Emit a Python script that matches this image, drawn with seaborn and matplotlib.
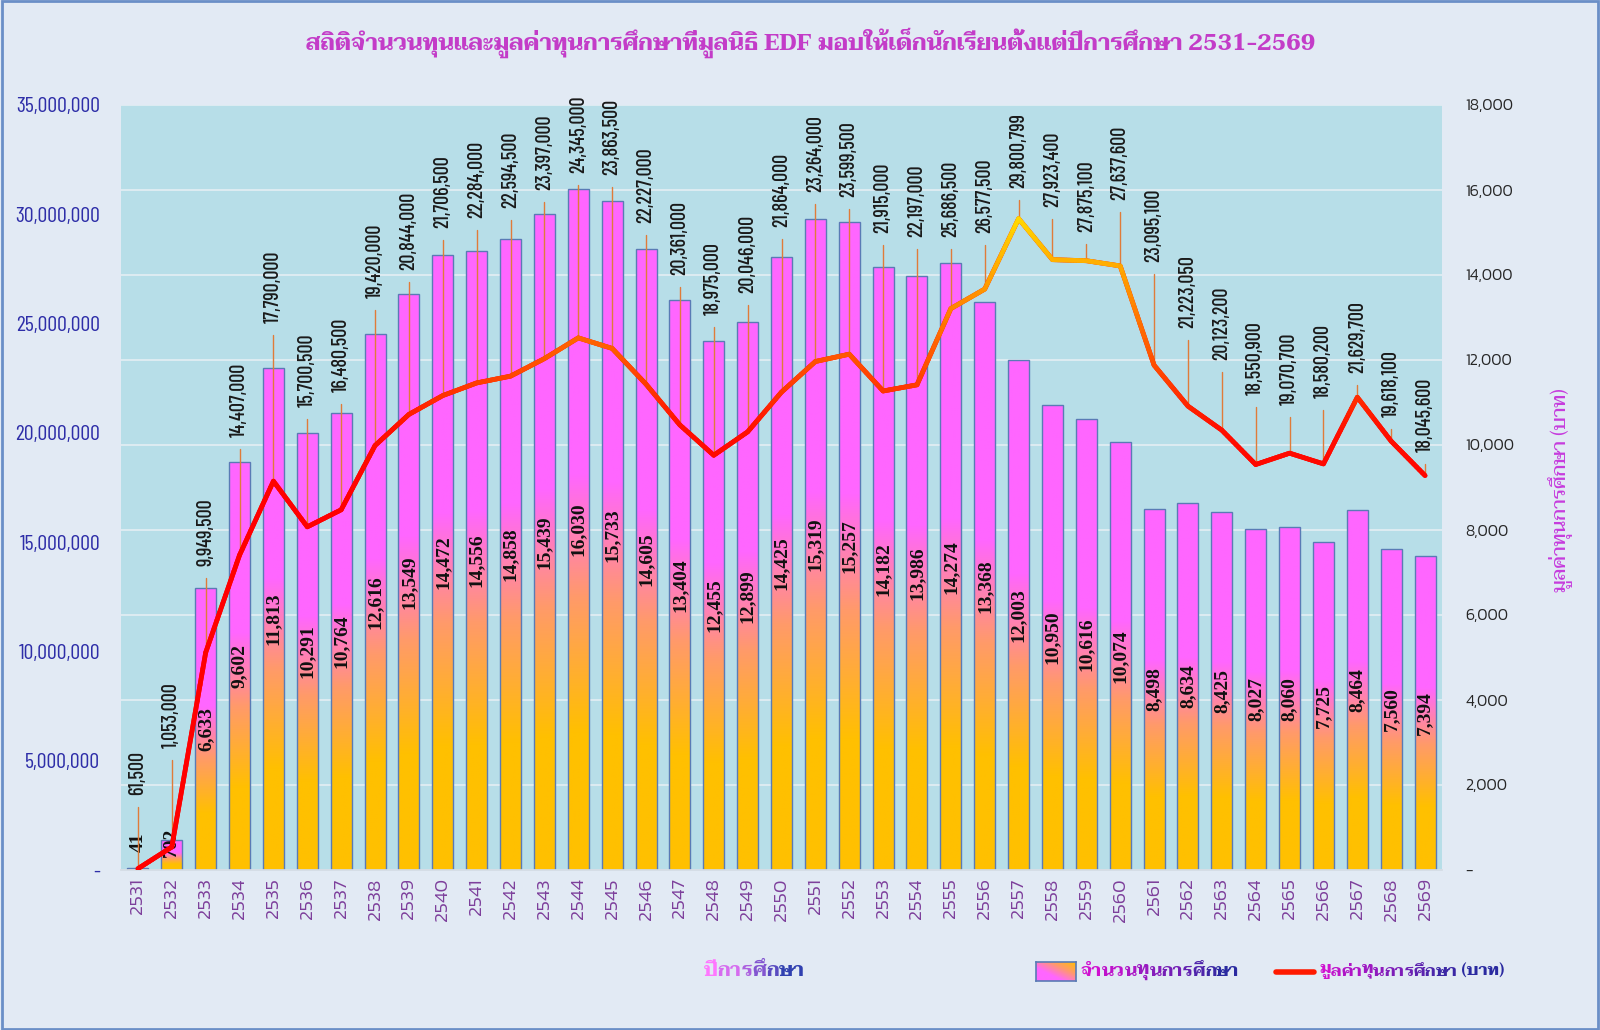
import numpy as np
import pandas as pd
import matplotlib
matplotlib.use("Agg")
import matplotlib.pyplot as plt
import seaborn as sns
from matplotlib.colors import LinearSegmentedColormap, Normalize, to_rgb
from matplotlib.collections import LineCollection
from matplotlib.patches import Rectangle
from matplotlib.lines import Line2D
import logging
logging.getLogger("matplotlib.font_manager").setLevel(logging.ERROR)

# ---------------- data ----------------
years = [str(y) for y in range(2531, 2570)]
scholarship_counts = [41, 702, 6633, 9602, 11813, 10291, 10764, 12616, 13549, 14472,
                      14556, 14858, 15439, 16030, 15733, 14605, 13404, 12455, 12899, 14425,
                      15319, 15257, 14182, 13986, 14274, 13368, 12003, 10950, 10616, 10074,
                      8498, 8634, 8425, 8027, 8060, 7725, 8464, 7560, 7394]
scholarship_values = [61500, 1053000, 9949500, 14407000, 17790000, 15700500, 16480500,
                      19420000, 20844000, 21706500, 22284000, 22594500, 23397000, 24345000,
                      23863500, 22227000, 20361000, 18975000, 20046000, 21864000, 23264000,
                      23599500, 21915000, 22197000, 25686500, 26577500, 29800799, 27923400,
                      27875100, 27637600, 23095100, 21223050, 20123200, 18550900, 19070700,
                      18580200, 21629700, 19618100, 18045600]
# layout only: height (million baht, left axis) where each value label starts
value_label_base_m = [3.43, 5.58, 13.91, 19.81, 25.03, 21.18, 21.87, 26.17, 27.45, 29.37,
                      29.83, 30.29, 31.11, 31.89, 31.80, 29.60, 27.22, 25.39, 26.40, 29.42,
                      31.02, 30.79, 29.14, 28.96, 28.96, 29.14, 31.20, 30.33, 29.19, 30.65,
                      27.82, 24.80, 23.33, 21.73, 21.27, 21.59, 22.74, 20.73, 19.12]

title_text = "สถิติจำนวนทุนและมูลค่าทุนการศึกษาที่มูลนิธิ EDF มอบให้เด็กนักเรียนตั้งแต่ปีการศึกษา 2531-2569"
xlabel_chunks = ["ปี", "กา", "ร", "ศึ", "ก", "ษา"]
ylabel_right_text = "มูลค่าทุนการศึกษา (บาท)"
legend_bar_chunks = ["จำ", "นว", "น", "ทุ", "น", "กา", "ร", "ศึ", "ก", "ษา"]
legend_line_chunks = ["มู", "ล", "ค่า", "ทุ", "น", "กา", "ร", "ศึ", "ก", "ษา", " (บาท)"]

# ---------------- fonts ----------------
THAI = ["Taviraj", "Trirong", "Noto Serif Thai", "DejaVu Sans"]
COND = ["Barlow Condensed", "Roboto Condensed", "Liberation Sans Narrow", "DejaVu Sans"]
ROUND = ["Kanit", "Noto Sans", "DejaVu Sans"]
SERIF = ["Liberation Serif", "DejaVu Serif"]

sns.set_theme(style="white")
plt.rcParams["font.family"] = THAI

W, H = 1600, 1030
fig = plt.figure(figsize=(W / 100, H / 100), dpi=100, facecolor="#E2EAF4")
renderer = fig.canvas.get_renderer()

ax = fig.add_axes([121 / W, 1 - 870 / H, (1442 - 121) / W, 765 / H])
ax.set_facecolor("#B7DEE8")

df = pd.DataFrame({"year": years, "count": scholarship_counts, "value": scholarship_values})
sns.barplot(data=df, x="year", y="count", order=years, ax=ax, width=0.62,
            color="#FF66FF", saturation=1, edgecolor="#5A7BB5", linewidth=1.0, zorder=2)

n = len(years)
ax.set_xlim(-0.5, n - 0.5)
ax.set_ylim(0, 18000)

# gradient fill for bars (yellow bottom -> pink top)
bar_cmap = LinearSegmentedColormap.from_list(
    "barg", [(0.0, "#FFC000"), (0.2, "#FFC000"), (0.4, "#FF9A6A"), (0.58, "#FF66FF"), (1.0, "#FF66FF")])
grad = bar_cmap(np.linspace(0, 1, 256))[:, None, :3]
for p in ax.patches:
    x0, w, h = p.get_x(), p.get_width(), p.get_height()
    im = ax.imshow(grad, extent=[x0, x0 + w, 0, h], origin="lower", aspect="auto",
                   zorder=1.9, interpolation="bilinear")
    im.set_clip_path(p)
    p.set_facecolor("none")
ax.set_aspect("auto")
ax.set_xlim(-0.5, n - 0.5)
ax.set_ylim(0, 18000)

# ---------------- line axis (left) ----------------
ax2 = ax.twinx()
ax.yaxis.tick_right()
ax.yaxis.set_label_position("right")
ax2.yaxis.tick_left()
ax2.yaxis.set_label_position("left")

# bars -> right axis ticks
rticks = list(range(0, 18001, 2000))
ax.set_yticks(rticks)
ax.set_yticklabels(["-" if t == 0 else f"{t:,}" for t in rticks], family=ROUND,
                   fontsize=11.5, color="#262626", weight=300)
ax.tick_params(axis="y", which="both", length=0, pad=17, left=False, labelleft=False,
               right=True, labelright=True)
ax.grid(axis="y", color="#E4EEF3", lw=1.2)
ax.grid(axis="x", visible=False)
ax.set_axisbelow(True)
ax.set_xticks(range(n))
ax.set_xticklabels(years, rotation=90, family=ROUND, fontsize=14, color="#7D3F9B", weight=300)
ax.tick_params(axis="x", length=0, pad=6)
ax.set_xticks(np.arange(-0.5, n, 1.0), minor=True)
ax.tick_params(axis="x", which="minor", length=7, color="#D4DCE4", width=1)
for s in ["top", "left", "right"]:
    ax.spines[s].set_visible(False)
ax.spines["bottom"].set_color("#D4DCE4")
ax.set_xlabel("")
ax.set_ylabel("")

# bar value labels (centered)
for i, c in enumerate(scholarship_counts):
    ax.text(i, max(c / 2, 650), f"{c:,}", rotation=90, ha="center", va="center",
            family=SERIF, weight="bold", fontsize=14, color="#111111", zorder=3)

ax2.set_ylim(0, 35e6)
lticks = list(range(0, 35000001, 5000000))
ax2.set_yticks(lticks)
ax2.set_yticklabels(["-" if t == 0 else f"{t:,}" for t in lticks], family=COND,
                    fontsize=15.8, color="#2E2EA8")
ax2.tick_params(axis="y", which="both", length=0, pad=15, right=False, labelright=False,
                left=True, labelleft=True)
ax2.grid(False)
for s in ax2.spines.values():
    s.set_visible(False)

idx = np.arange(n)
sns.lineplot(x=idx, y=scholarship_values, ax=ax2, color="#FF0000", lw=3.4, zorder=4)
ax2.set_xlim(-0.5, n - 0.5)
ax2.set_ylim(0, 35e6)
ax2.set_xlabel("")
ax2.set_ylabel("")

line_cmap = LinearSegmentedColormap.from_list(
    "lineg", [(0.0, "#FF0000"), (0.25, "#FF1000"), (0.45, "#FF4A00"), (0.58, "#FF6A00"),
              (0.72, "#FF9000"), (0.85, "#FFB400"), (1.0, "#FFDD00")])
lnorm = Normalize(vmin=17e6, vmax=30e6)
segs, cols = [], []
for i in range(n - 1):
    ts = np.linspace(0, 1, 13)
    xs = i + ts
    ys = scholarship_values[i] + (scholarship_values[i + 1] - scholarship_values[i]) * ts
    for k in range(len(ts) - 1):
        segs.append([(xs[k], ys[k]), (xs[k + 1], ys[k + 1])])
        cols.append(line_cmap(lnorm((ys[k] + ys[k + 1]) / 2)))
lc = LineCollection(segs, colors=cols, linewidths=3.4, capstyle="round", zorder=5)
ax2.add_collection(lc)

# value labels with leader lines
for i, (v, b) in enumerate(zip(scholarship_values, value_label_base_m)):
    base = b * 1e6
    top = base - 0.55e6
    if top > v + 0.3e6:
        ax2.plot([i, i], [top, v], color="#E07B39", lw=1, zorder=3.5)
    ax2.text(i, base, f"{v:,}", rotation=90, ha="center", va="bottom",
             family=COND, fontsize=14.5, weight=500, color="#1A1A1A", zorder=6)

# ---------------- texts ----------------
def fit_size(t, target_px, horizontal=True):
    bb = t.get_window_extent(renderer)
    cur = bb.width if horizontal else bb.height
    t.set_fontsize(t.get_fontsize() * target_px / cur)

title = fig.text(811 / W, 1 - 43 / H, title_text, ha="center", va="center", fontsize=20,
                 weight="bold", color="#C33CC8", family=THAI)
fit_size(title, 1010)

ylab = fig.text(1561 / W, 1 - 490 / H, ylabel_right_text, rotation=90, ha="center", va="center",
                fontsize=15, color="#C63CDD", weight=500, family=THAI)
fit_size(ylab, 204, horizontal=False)


def mix(c1, c2, t):
    a, b = np.array(to_rgb(c1)), np.array(to_rgb(c2))
    return tuple(a + (b - a) * t)


def chunk_text(x_left, y_px, chunks, c_start, c_end, size, weight="bold", target=None):
    cols = [mix(c_start, c_end, k / max(len(chunks) - 1, 1)) for k in range(len(chunks))]
    ts = [fig.text(0, 1 - y_px / H, ch, ha="left", va="center", fontsize=size, weight=weight,
                   color=cl, family=THAI) for ch, cl in zip(chunks, cols)]
    widths = [t.get_window_extent(renderer).width for t in ts]
    if target:
        f = target / sum(widths)
        for t in ts:
            t.set_fontsize(size * f)
        widths = [t.get_window_extent(renderer).width for t in ts]
    x = x_left
    for t, w in zip(ts, widths):
        t.set_x(x / W)
        x += w
    return x


chunk_text(704, 971, xlabel_chunks, "#FF77FF", "#3040B0", 17, target=100)

# legend (manual)
lg_ax = fig.add_axes([1036 / W, 1 - 981 / H, 40 / W, 19 / H])
gx, gy = np.meshgrid(np.linspace(0, 1, 64), np.linspace(0, 1, 32))
diag = np.clip((gx + (1 - gy)) / 2, 0, 1)
lg_ax.imshow(LinearSegmentedColormap.from_list("lg", ["#FF66FF", "#FF66FF", "#FF9A6A", "#FFC000"])(diag),
             aspect="auto", extent=[0, 1, 0, 1], origin="upper")
lg_ax.set_xticks([]); lg_ax.set_yticks([])
for s in lg_ax.spines.values():
    s.set_color("#5A7BB5"); s.set_linewidth(1.2)
chunk_text(1081, 971, legend_bar_chunks, "#D010D0", "#2A2AA0", 16, target=159)
fig.add_artist(Line2D([1276 / W, 1314 / W], [1 - 972 / H, 1 - 972 / H], color="#FF1A00", lw=4,
                      transform=fig.transFigure))
chunk_text(1319, 971, legend_line_chunks, "#D010D0", "#2A2AA0", 16, target=186)

fig.add_artist(Rectangle((0.001, 0.001), 0.998, 0.998, transform=fig.transFigure,
                         fill=False, edgecolor="#6A8FC7", lw=2))
fig.savefig("out.png", dpi=100, facecolor=fig.get_facecolor())
